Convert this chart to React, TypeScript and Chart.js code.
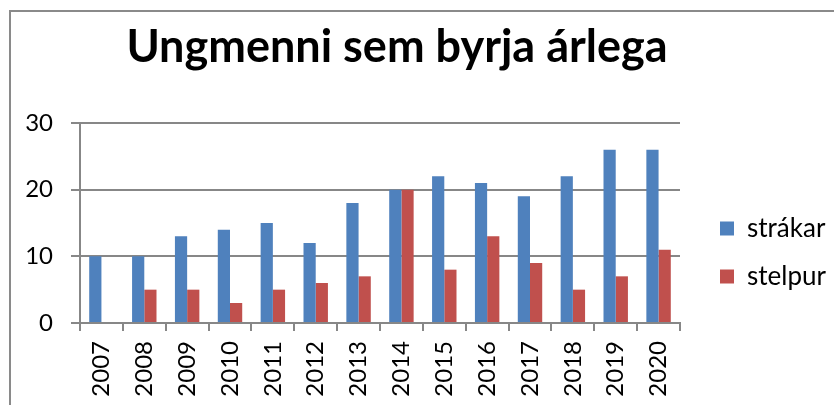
import React, { useEffect, useRef } from 'react';
import { Chart, registerables } from 'chart.js';

Chart.register(...registerables);

// ---- data ----
const years = ['2007', '2008', '2009', '2010', '2011', '2012', '2013', '2014', '2015', '2016', '2017', '2018', '2019', '2020'];
const strakar = [10, 10, 13, 14, 15, 12, 18, 20, 22, 21, 19, 22, 26, 26];
const stelpur = [0, 5, 5, 3, 5, 6, 7, 20, 8, 13, 9, 5, 7, 11];
const seriesNames = ['strákar', 'stelpur'];
const yMin = 0;
const yMax = 30;
const yStep = 10;
const titleText = 'Ungmenni sem byrja árlega';

// ---- styles ----
const FONT = 'Lato';
const GRID = '#878787';
const BLUE = '#4F81BD';
const RED = '#C0504D';

const LEGEND_W = 154;
const LEGEND_DX = 18;
const LEGEND_DY = 46;

const legendPlacer = {
  id: 'legendPlacer',
  beforeLayout(chart: any) {
    const lg = chart.legend;
    if (lg && !lg.__fitPatched) {
      const orig = lg.fit;
      lg.fit = function (this: any) {
        orig.call(this);
        this.width = LEGEND_W;
      };
      lg.__fitPatched = true;
    }
  },
  afterLayout(chart: any) {
    const lg = chart.legend;
    if (lg) {
      lg.left += LEGEND_DX;
      lg.right += LEGEND_DX;
      lg.top += LEGEND_DY;
      lg.bottom += LEGEND_DY;
    }
  },
};

export default function App() {
  const ref = useRef<HTMLCanvasElement>(null);

  useEffect(() => {
    const canvas = ref.current;
    if (!canvas) return;
    const tickFont = { family: FONT, size: 24 };
    const chart = new Chart(canvas, {
      type: 'bar',
      data: {
        labels: years,
        datasets: [
          { label: seriesNames[0], data: strakar, backgroundColor: BLUE, borderWidth: 0 },
          { label: seriesNames[1], data: stelpur, backgroundColor: RED, borderWidth: 0 },
        ],
      },
      options: {
        responsive: false,
        animation: false,
        devicePixelRatio: 1,
        layout: { padding: 0 },
        datasets: { bar: { categoryPercentage: 0.57, barPercentage: 1 } },
        plugins: {
          title: {
            display: true,
            text: titleText,
            color: '#000',
            font: { family: FONT, size: 45, weight: 'bold' },
            padding: { top: 12, bottom: 49 },
          },
          legend: {
            position: 'right',
            labels: {
              boxWidth: 14,
              boxHeight: 14,
              padding: 22,
              color: '#000',
              font: { family: FONT, size: 26 },
            },
          },
          tooltip: { enabled: false },
        },
        scales: {
          x: {
            grid: {
              display: true,
              drawOnChartArea: false,
              drawTicks: true,
              tickLength: 8,
              color: GRID,
              lineWidth: 2,
              offset: true,
            },
            border: { display: true, color: GRID, width: 2 },
            ticks: {
              minRotation: 90,
              maxRotation: 90,
              autoSkip: false,
              padding: 10,
              color: '#000',
              font: tickFont,
            },
            afterFit: (s: any) => {
              s.height = 82;
            },
          },
          y: {
            min: yMin,
            max: yMax,
            ticks: { stepSize: yStep, padding: 18, color: '#000', font: tickFont },
            grid: { color: GRID, lineWidth: 2, tickLength: 9 },
            border: { display: true, color: GRID, width: 2 },
            afterFit: (s: any) => {
              s.width = 120;
            },
          },
        },
      } as any,
      plugins: [legendPlacer as any],
    });
    return () => chart.destroy();
  }, []);

  return (
    <div style={{ position: 'fixed', left: 0, top: 0, width: '100vw', height: '100vh', overflow: 'hidden', background: '#fff' }}>
      <div
        style={{
          position: 'absolute',
          left: 9,
          top: 10,
          width: 900,
          height: 500,
          borderLeft: '2px solid #8a8a8a',
          borderTop: '2px solid #8a8a8a',
        }}
      />
      <canvas
        ref={ref}
        width={874}
        height={397}
        style={{ position: 'absolute', left: -40, top: 8, width: 874, height: 397 }}
      />
    </div>
  );
}
